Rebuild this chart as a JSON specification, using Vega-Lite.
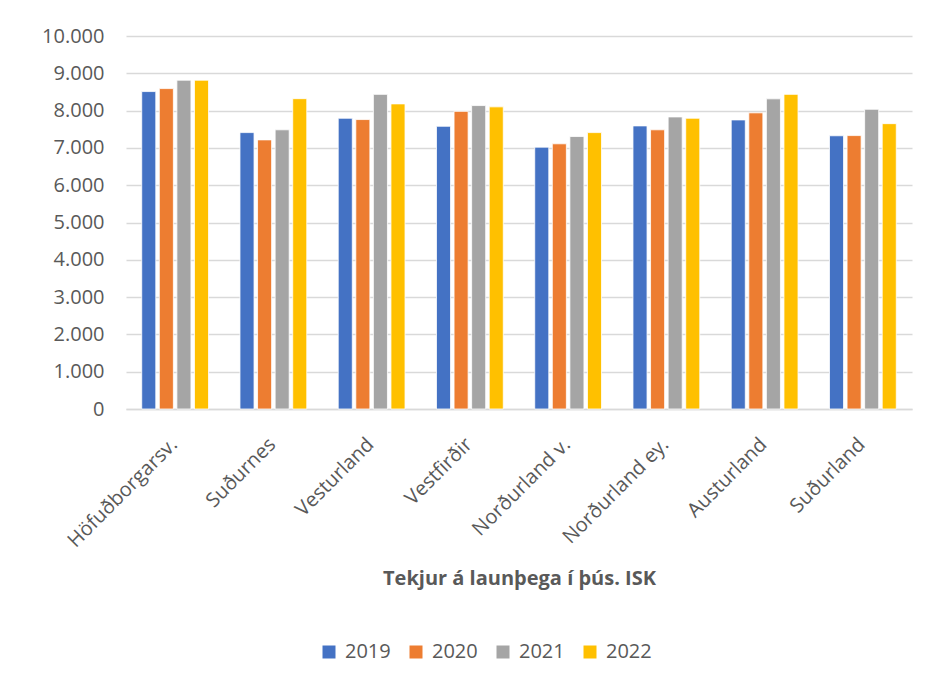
{
  "$schema": "https://vega.github.io/schema/vega-lite/v6.json",
  "width": 786,
  "height": 373,
  "autosize": {"type": "none"},
  "padding": {"left": 126, "top": 36, "right": 32, "bottom": 275},
  "background": "white",
  "data": {
    "values": [
      {"region": "Höfuðborgarsv.", "year": "2019", "value": 8510},
      {"region": "Höfuðborgarsv.", "year": "2020", "value": 8590},
      {"region": "Höfuðborgarsv.", "year": "2021", "value": 8815},
      {"region": "Höfuðborgarsv.", "year": "2022", "value": 8815},
      {"region": "Suðurnes", "year": "2019", "value": 7410},
      {"region": "Suðurnes", "year": "2020", "value": 7215},
      {"region": "Suðurnes", "year": "2021", "value": 7485},
      {"region": "Suðurnes", "year": "2022", "value": 8320},
      {"region": "Vesturland", "year": "2019", "value": 7795},
      {"region": "Vesturland", "year": "2020", "value": 7760},
      {"region": "Vesturland", "year": "2021", "value": 8435},
      {"region": "Vesturland", "year": "2022", "value": 8180},
      {"region": "Vestfirðir", "year": "2019", "value": 7580},
      {"region": "Vestfirðir", "year": "2020", "value": 7980},
      {"region": "Vestfirðir", "year": "2021", "value": 8135},
      {"region": "Vestfirðir", "year": "2022", "value": 8100},
      {"region": "Norðurland v.", "year": "2019", "value": 7020},
      {"region": "Norðurland v.", "year": "2020", "value": 7110},
      {"region": "Norðurland v.", "year": "2021", "value": 7305},
      {"region": "Norðurland v.", "year": "2022", "value": 7410},
      {"region": "Norðurland ey.", "year": "2019", "value": 7590},
      {"region": "Norðurland ey.", "year": "2020", "value": 7485},
      {"region": "Norðurland ey.", "year": "2021", "value": 7830},
      {"region": "Norðurland ey.", "year": "2022", "value": 7795},
      {"region": "Austurland", "year": "2019", "value": 7750},
      {"region": "Austurland", "year": "2020", "value": 7940},
      {"region": "Austurland", "year": "2021", "value": 8315},
      {"region": "Austurland", "year": "2022", "value": 8435},
      {"region": "Suðurland", "year": "2019", "value": 7325},
      {"region": "Suðurland", "year": "2020", "value": 7330},
      {"region": "Suðurland", "year": "2021", "value": 8035},
      {"region": "Suðurland", "year": "2022", "value": 7650}
    ]
  },
  "mark": {"type": "bar", "stroke": "white", "strokeWidth": 0.8},
  "encoding": {
    "x": {
      "field": "region",
      "type": "nominal",
      "sort": null,
      "scale": {"paddingInner": 0.32, "paddingOuter": 0.16},
      "axis": {
        "title": "Tekjur á launþega í þús. ISK",
        "labelAngle": -45,
        "labelFontSize": 20,
        "labelColor": "#595959",
        "labelPadding": 25,
        "labelOffset": -8,
        "ticks": false,
        "domainColor": "#d9d9d9",
        "domainWidth": 1.5,
        "titleFontSize": 20,
        "titleFontWeight": "bold",
        "titleColor": "#595959",
        "titleY": 169,
        "titleBaseline": "middle"
      }
    },
    "xOffset": {
      "field": "year",
      "type": "nominal",
      "scale": {"paddingInner": 0.2}
    },
    "y": {
      "field": "value",
      "type": "quantitative",
      "scale": {"domain": [0, 10000]},
      "axis": {
        "title": null,
        "values": [0, 1000, 2000, 3000, 4000, 5000, 6000, 7000, 8000, 9000, 10000],
        "labelExpr": "replace(format(datum.value, ','), ',', '.')",
        "labelFontSize": 20,
        "labelColor": "#595959",
        "labelPadding": 22,
        "ticks": false,
        "domain": false,
        "gridColor": "#d9d9d9",
        "gridWidth": 1.5
      }
    },
    "color": {
      "field": "year",
      "type": "nominal",
      "scale": {
        "domain": ["2019", "2020", "2021", "2022"],
        "range": ["#4472c4", "#ed7d31", "#a5a5a5", "#ffc000"]
      },
      "legend": {
        "title": null,
        "orient": "none",
        "direction": "horizontal",
        "legendX": 193,
        "legendY": 606,
        "symbolType": "square",
        "symbolSize": 169,
        "symbolStrokeWidth": 0,
        "labelFontSize": 20,
        "labelColor": "#595959",
        "labelOffset": 6,
        "columnPadding": 15
      }
    }
  },
  "config": {
    "font": "Open Sans",
    "view": {"stroke": null}
  }
}
